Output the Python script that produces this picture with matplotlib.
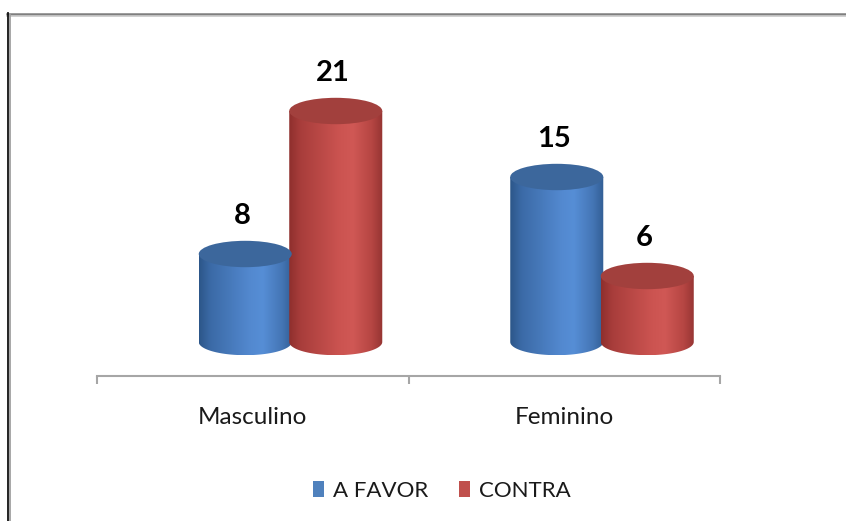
import numpy as np
import matplotlib
matplotlib.use("Agg")
import matplotlib.pyplot as plt
from matplotlib.path import Path
from matplotlib.patches import PathPatch, Ellipse, Rectangle
from matplotlib.colors import LinearSegmentedColormap
from matplotlib.lines import Line2D

# --- data ---
categories = ["Masculino", "Feminino"]
series_names = ["A FAVOR", "CONTRA"]
a_favor = [8, 15]
contra = [21, 6]

W, H = 846, 521
fig = plt.figure(figsize=(W / 100, H / 100), dpi=100)
fig.patch.set_facecolor("white")

# axes: bottom spine at y=376 px, zero level of cylinders at y=342 px, 11 px per unit
px_per_unit = 11.0
ax_bottom_px, ax_top_px = 376, 30
zero_px = 342
ax = fig.add_axes([97 / W, (H - ax_bottom_px) / H, 623 / W, (ax_bottom_px - ax_top_px) / H])
ylo = -(ax_bottom_px - zero_px) / px_per_unit
yhi = (zero_px - ax_top_px) / px_per_unit

# series styling
body_cmaps = [
    LinearSegmentedColormap.from_list("blue_body", [
        (0.0, "#2c5689"), (0.12, "#3b6aa6"), (0.55, "#5389d0"),
        (0.68, "#568ed6"), (0.88, "#4576b6"), (1.0, "#325f95")]),
    LinearSegmentedColormap.from_list("red_body", [
        (0.0, "#8e2f2d"), (0.12, "#a83d3b"), (0.55, "#cc5451"),
        (0.68, "#d05855"), (0.88, "#b64643"), (1.0, "#953432")]),
]
top_colors = ["#3c679c", "#a2403d"]
legend_colors = ["#4f81bd", "#c0504d"]

depth_offset = 0.1212   # cylinders sit behind the category centre
spacing = 0.2905
width = 0.2986
cap_h = 2.4             # ellipse height in data units


def cylinder(ax, cx, value, cmap, top_color):
    a = width / 2
    b = cap_h / 2
    x0, x1 = cx - a, cx + a
    t = np.linspace(np.pi, 2 * np.pi, 60)
    arc = np.column_stack([cx + a * np.cos(t), b * np.sin(t)])
    verts = np.vstack([[[x0, value]], arc, [[x1, value]], [[x0, value]]])
    codes = [Path.MOVETO] + [Path.LINETO] * (len(verts) - 2) + [Path.CLOSEPOLY]
    body = PathPatch(Path(verts, codes), facecolor="none", edgecolor="none")
    ax.add_patch(body)
    grad = np.linspace(0, 1, 256).reshape(1, -1)
    im = ax.imshow(grad, cmap=cmap, extent=[x0, x1, -b, value + b],
                   aspect="auto", interpolation="bilinear", zorder=2)
    im.set_clip_path(body)
    top = Ellipse((cx, value), width, cap_h, facecolor=top_color,
                  edgecolor="none", zorder=3)
    ax.add_patch(top)


all_series = [a_favor, contra]
for i, cat in enumerate(categories):
    gc = i + 0.5 + depth_offset
    for s, vals in enumerate(all_series):
        cx = gc + (s - 0.5) * spacing
        v = vals[i]
        cylinder(ax, cx, v, body_cmaps[s], top_colors[s])
        ax.text(cx - 0.01, v + 38 / px_per_unit, str(v), ha="center", va="center",
                fontsize=21, fontweight="bold", family="Lato", color="black", zorder=5)

ax.set_xlim(0, 2)
ax.set_ylim(ylo, yhi)
for side in ["top", "right", "left"]:
    ax.spines[side].set_visible(False)
ax.spines["bottom"].set_color("#a6a6a6")
ax.spines["bottom"].set_linewidth(1.5)
ax.set_yticks([])
ax.set_xticks([0, 1, 2])
ax.set_xticklabels([])
ax.tick_params(axis="x", which="major", length=6, width=1.5, color="#a6a6a6", direction="out")
ax.set_xticks([0.5, 1.5], categories, minor=True)
ax.tick_params(axis="x", which="minor", length=0, pad=22, labelsize=17.5, labelcolor="#1a1a1a")
for lbl in ax.get_xticklabels(minor=True):
    lbl.set_family("Lato")
ax.patch.set_alpha(0)

# legend
handles = [Rectangle((0, 0), 1, 1, facecolor=c, edgecolor="none") for c in legend_colors]
leg = fig.legend(handles, series_names, loc="center", bbox_to_anchor=(442 / W, 1 - 491 / H),
                 ncol=2, frameon=False, prop={"family": "Lato", "size": 16},
                 handlelength=0.5, handleheight=0.7, handletextpad=0.4, columnspacing=1.4)
for t in leg.get_texts():
    t.set_color("#1a1a1a")

# chart frame
fig.add_artist(Line2D([7 / W, 1], [1 - 13.5 / H, 1 - 13.5 / H], color="#7f7f7f", lw=1.8))
fig.add_artist(Line2D([7 / W, 1], [1 - 15.5 / H, 1 - 15.5 / H], color="#c8c8c8", lw=1.2))
fig.add_artist(Line2D([8 / W, 8 / W], [0, 1 - 13 / H], color="#111111", lw=1.3))
fig.add_artist(Line2D([10 / W, 10 / W], [0, 1 - 15 / H], color="#a0a0a0", lw=1.3))

fig.savefig("out.png", dpi=100)
